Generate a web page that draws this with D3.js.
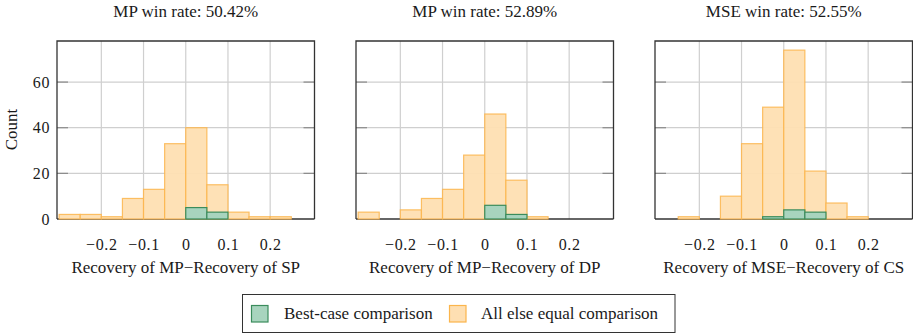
<!DOCTYPE html>
<html>
<head>
<meta charset="utf-8">
<script src="https://cdn.jsdelivr.net/npm/d3@7"></script>
<style>
  body { margin: 0; background: #fff; }
  text { font-family: "Liberation Serif", "Times New Roman", serif; fill: #1a1a1a; }
</style>
</head>
<body>
<div id="chart"></div>
<script>
// histogram bin edges, shared by the three panels
var binEdges = [-0.3, -0.25, -0.2, -0.15, -0.1, -0.05, 0, 0.05, 0.1, 0.15, 0.2, 0.25, 0.3];

// counts per bin
var allElseSP  = [2, 2, 1, 9, 13, 33, 40, 15, 3, 1, 1, 0];
var bestCaseSP = [0, 0, 0, 0, 0, 0, 5, 3, 0, 0, 0, 0];
var allElseDP  = [3, 0, 4, 9, 13, 28, 46, 17, 1, 0, 0, 0];
var bestCaseDP = [0, 0, 0, 0, 0, 0, 6, 2, 0, 0, 0, 0];
var allElseCS  = [0, 1, 0, 10, 33, 49, 74, 21, 7, 1, 0, 0];
var bestCaseCS = [0, 0, 0, 0, 0, 1, 4, 3, 0, 0, 0, 0];

var titles = ["MP win rate: 50.42%", "MP win rate: 52.89%", "MSE win rate: 52.55%"];
var xLabels = ["Recovery of MP\u2212Recovery of SP",
               "Recovery of MP\u2212Recovery of DP",
               "Recovery of MSE\u2212Recovery of CS"];
var xTicks = [-0.2, -0.1, 0, 0.1, 0.2];
var yTicks = [0, 20, 40, 60];
var legendLabels = ["Best-case comparison", "All else equal comparison"];

function createHistograms() {
  var panels = [
    {title: titles[0], label: xLabels[0], allElse: allElseSP, best: bestCaseSP},
    {title: titles[1], label: xLabels[1], allElse: allElseDP, best: bestCaseDP},
    {title: titles[2], label: xLabels[2], allElse: allElseCS, best: bestCaseCS}
  ];

  var colors = {
    allElseFill: "#fedfb2", allElseStroke: "#fbb54c",
    bestFill: "#a8d4be", bestStroke: "#3b8c5c"
  };

  // panel geometry
  var lefts = [57, 356, 655],
      plotTop = 41,
      width = 257.5,
      height = 178;

  var svg = d3.select("#chart").append("svg")
      .attr("width", 913)
      .attr("height", 333);

  // shared scales
  var x = d3.scaleLinear().domain([-0.305, 0.305]).range([0, width]);
  var y = d3.scaleLinear().domain([0, 78]).range([height, 0]);

  function bins(counts) {
    return counts.map(function(c, i) {
      return {x0: binEdges[i], x1: binEdges[i + 1], count: c};
    });
  }

  panels.forEach(function(p, pi) {
    var g = svg.append("g")
        .attr("transform", "translate(" + lefts[pi] + "," + plotTop + ")");

    // grid
    g.selectAll(".vgrid")
        .data(xTicks)
      .enter().append("line")
        .attr("x1", function(d) { return x(d); })
        .attr("x2", function(d) { return x(d); })
        .attr("y1", 0).attr("y2", height)
        .attr("stroke", "#cfcfcf").attr("stroke-width", 1.2);
    g.selectAll(".hgrid")
        .data(yTicks.slice(1))
      .enter().append("line")
        .attr("x1", 0).attr("x2", width)
        .attr("y1", function(d) { return y(d); })
        .attr("y2", function(d) { return y(d); })
        .attr("stroke", "#cfcfcf").attr("stroke-width", 1.2);

    // small y tick marks, both sides
    yTicks.slice(1).forEach(function(t) {
      g.append("line").attr("x1", 0).attr("x2", 11)
          .attr("y1", y(t)).attr("y2", y(t))
          .attr("stroke", "#8a8a8a").attr("stroke-width", 1.2);
      g.append("line").attr("x1", width - 11).attr("x2", width)
          .attr("y1", y(t)).attr("y2", y(t))
          .attr("stroke", "#8a8a8a").attr("stroke-width", 1.2);
    });

    // bottom axis line
    g.append("line").attr("x1", 0).attr("x2", width)
        .attr("y1", height).attr("y2", height)
        .attr("stroke", "#333").attr("stroke-width", 1.3);

    // all-else-equal histogram
    g.selectAll(".allelse")
        .data(bins(p.allElse))
      .enter().append("rect")
        .attr("x", function(d) { return x(d.x0); })
        .attr("width", function(d) { return x(d.x1) - x(d.x0); })
        .attr("y", function(d) { return y(d.count); })
        .attr("height", function(d) { return height - y(d.count); })
        .attr("fill", colors.allElseFill)
        .attr("fill-opacity", 0.95)
        .attr("stroke", colors.allElseStroke)
        .attr("stroke-opacity", 0.85)
        .attr("stroke-width", 1.2);

    // best-case histogram on top
    g.selectAll(".best")
        .data(bins(p.best))
      .enter().append("rect")
        .attr("x", function(d) { return x(d.x0); })
        .attr("width", function(d) { return x(d.x1) - x(d.x0); })
        .attr("y", function(d) { return y(d.count); })
        .attr("height", function(d) { return height - y(d.count); })
        .attr("fill", colors.bestFill)
        .attr("stroke", colors.bestStroke)
        .attr("stroke-width", 1.2);

    // frame: left, top, right
    g.append("path")
        .attr("d", "M0," + height + "V0H" + width + "V" + height)
        .attr("fill", "none")
        .attr("stroke", "#333")
        .attr("stroke-width", 1.3);

    // x tick labels
    var xAxis = g.append("g")
        .attr("transform", "translate(0," + height + ")")
        .call(d3.axisBottom(x).tickValues(xTicks).tickSize(0).tickPadding(20)
                .tickFormat(function(d) { return d === 0 ? "0" : d3.format(".1f")(d); }));
    xAxis.select(".domain").remove();
    xAxis.selectAll("text")
        .style("font-family", "'Liberation Serif', serif")
        .style("font-size", "16px")
        .style("letter-spacing", "0.6px")
        .attr("fill", "#1a1a1a");

    // y tick labels only on the first panel
    if (pi === 0) {
      var yAxis = g.append("g")
          .call(d3.axisLeft(y).tickValues(yTicks).tickSize(0).tickPadding(7));
      yAxis.select(".domain").remove();
      yAxis.selectAll("text")
          .style("font-family", "'Liberation Serif', serif")
          .style("font-size", "16px")
          .style("letter-spacing", "0.6px")
          .attr("fill", "#1a1a1a");

      svg.append("text")
          .attr("transform", "translate(17," + (plotTop + height / 2 - 0.5) + ")rotate(-90)")
          .style("text-anchor", "middle")
          .style("font-size", "17px")
          .text("Count");
    }

    // title
    g.append("text")
        .attr("x", width / 2)
        .attr("y", 17 - plotTop)
        .style("text-anchor", "middle")
        .style("font-size", "17px")
        .text(p.title);

    // x axis label
    g.append("text")
        .attr("x", width / 2)
        .attr("y", height + 54)
        .style("text-anchor", "middle")
        .style("font-size", "17px")
        .text(p.label);
  });

  // legend
  var legend = svg.append("g");
  legend.append("rect")
      .attr("x", 242.5).attr("y", 294.5)
      .attr("width", 432.5).attr("height", 38)
      .attr("fill", "#fff")
      .attr("stroke", "#333")
      .attr("stroke-width", 1);

  var legendItems = [
    {label: legendLabels[0], fill: colors.bestFill, stroke: colors.bestStroke, bx: 251.5, tx: 284},
    {label: legendLabels[1], fill: colors.allElseFill, stroke: colors.allElseStroke, bx: 449.5, tx: 481}
  ];
  legendItems.forEach(function(d) {
    legend.append("rect")
        .attr("x", d.bx).attr("y", 305.5)
        .attr("width", 16.5).attr("height", 16.5)
        .attr("fill", d.fill)
        .attr("stroke", d.stroke)
        .attr("stroke-width", 1.2);
    legend.append("text")
        .attr("x", d.tx).attr("y", 318.5)
        .style("font-size", "17px")
        .text(d.label);
  });
}

createHistograms();
</script>
</body>
</html>
